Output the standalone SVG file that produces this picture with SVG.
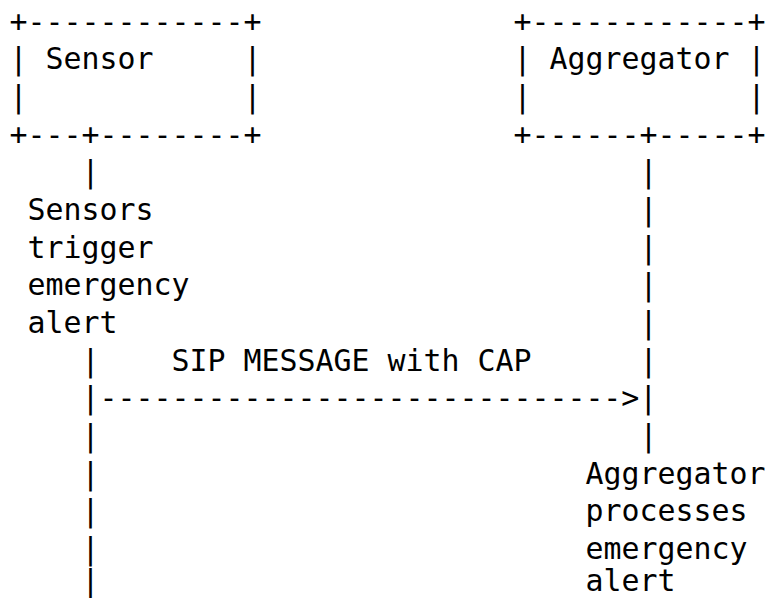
<svg xmlns="http://www.w3.org/2000/svg" width="766" height="598" viewBox="0 0 766 598" xml:space="preserve">
<style>
  text { font-family: "DejaVu Sans Mono", "Liberation Mono", monospace; font-size: 29.9px; fill: #000; white-space: pre; }
</style>
<rect width="766" height="598" fill="#fff"/>
<g id="sensor">
  <text x="9.5" y="31.5">+------------+</text>
  <text x="9.5" y="69.18">| Sensor     |</text>
  <text x="9.5" y="106.86">|            |</text>
  <text x="9.5" y="144.54">+---+--------+</text>
</g>
<g id="aggregator">
  <text x="513.5" y="31.5">+------------+</text>
  <text x="513.5" y="69.18">| Aggregator |</text>
  <text x="513.5" y="106.86">|            |</text>
  <text x="513.5" y="144.54">+------+-----+</text>
</g>
<g id="connectors">
  <!-- Sensor lifeline (col 4) -->
  <text x="81.5" y="182.22">|</text>
  <text x="81.5" y="370.62">|</text>
  <text x="81.5" y="445.98">|</text>
  <text x="81.5" y="483.66">|</text>
  <text x="81.5" y="521.34">|</text>
  <text x="81.5" y="559.02">|</text>
  <text x="81.5" y="591">|</text>
  <!-- Aggregator lifeline (col 35) -->
  <text x="639.5" y="182.22">|</text>
  <text x="639.5" y="219.9">|</text>
  <text x="639.5" y="257.58">|</text>
  <text x="639.5" y="295.26">|</text>
  <text x="639.5" y="332.94">|</text>
  <text x="639.5" y="370.62">|</text>
  <text x="639.5" y="445.98">|</text>
  <!-- message arrow -->
  <text id="msg-arrow" x="81.5" y="408.3">|-----------------------------&gt;|</text>
</g>
<g id="labels">
  <g id="sensor-note">
    <text x="27.5" y="219.9">Sensors</text>
    <text x="27.5" y="257.58">trigger</text>
    <text x="27.5" y="295.26">emergency</text>
    <text x="27.5" y="332.94">alert</text>
  </g>
  <text id="msg-label" x="171.5" y="370.62">SIP MESSAGE with CAP</text>
  <g id="aggregator-note">
    <text x="585.5" y="483.66">Aggregator</text>
    <text x="585.5" y="521.34">processes</text>
    <text x="585.5" y="559.02">emergency</text>
    <text x="585.5" y="591">alert</text>
  </g>
</g>
</svg>
